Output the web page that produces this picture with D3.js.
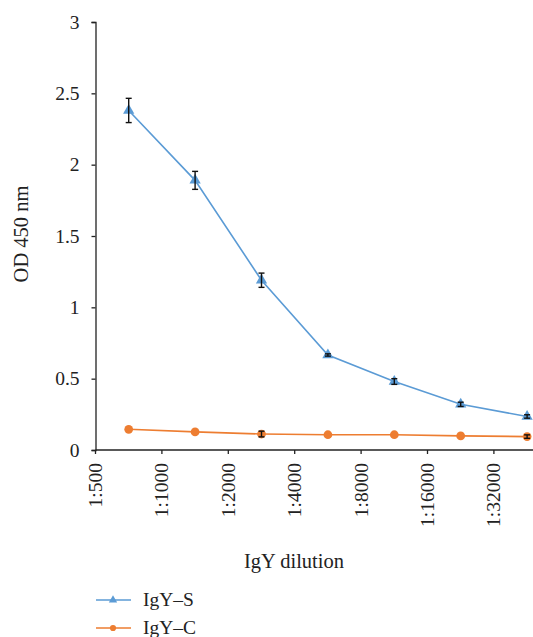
<!DOCTYPE html>
<html>
<head>
<meta charset="utf-8">
<script src="https://cdn.jsdelivr.net/npm/d3@7"></script>
<style>
  body { margin: 0; background: #fff; }
  text { font-family: "Liberation Serif", "DejaVu Serif", serif; fill: #222; }
</style>
</head>
<body>
<div id="chart"></div>
<script>
// values
const dilutions = ["1:500", "1:1000", "1:2000", "1:4000", "1:8000", "1:16000", "1:32000"];
const igyS = [2.38, 1.89, 1.19, 0.666, 0.48, 0.32, 0.235];
const igySErr = [0.085, 0.063, 0.05, 0.008, 0.02, 0.015, 0.012];
const igyC = [0.145, 0.127, 0.112, 0.107, 0.107, 0.099, 0.094];
const igyCErr = [0, 0, 0.02, 0, 0, 0, 0.012];
const yTicks = [0, 0.5, 1, 1.5, 2, 2.5, 3];

const width = 533, height = 637;
const plotLeft = 95.5, plotBottom = 450, plotTop = 22, step = 66.4;

const svg = d3.select("#chart")
    .append("svg")
    .attr("width", width)
    .attr("height", height);

const x = d3.scaleBand()
    .domain(dilutions)
    .range([plotLeft, plotLeft + step * dilutions.length]);

const y = d3.scaleLinear()
    .domain([0, 3])
    .range([plotBottom, plotTop]);

// y axis
const yAxis = svg.append("g")
    .attr("transform", `translate(${plotLeft}, 0)`)
    .call(d3.axisLeft(y).tickValues(yTicks).tickSize(4).tickPadding(12).tickFormat(d3.format("")));
yAxis.select(".domain").attr("stroke", "#222").attr("stroke-width", 1.3);
yAxis.selectAll(".tick line").attr("stroke", "#222").attr("stroke-width", 1.3);
yAxis.selectAll(".tick text").attr("font-size", 19.5).attr("fill", "#222");

// x axis, labels sit on the tick marks, points between them
const xAxis = svg.append("g")
    .attr("transform", `translate(0, ${plotBottom})`);
xAxis.append("line")
    .attr("x1", plotLeft).attr("x2", width)
    .attr("stroke", "#222").attr("stroke-width", 1.3);
const xt = xAxis.selectAll(".xt")
    .data(dilutions)
    .enter().append("g")
    .attr("transform", d => `translate(${x(d)}, 0)`);
xt.append("line").attr("y2", 4).attr("stroke", "#222").attr("stroke-width", 1.3);
xt.append("text")
    .attr("transform", "rotate(-90)")
    .attr("x", -13)
    .attr("dy", "0.33em")
    .attr("text-anchor", "end")
    .attr("font-size", 19.5)
    .text(d => d);

// axis titles
svg.append("text")
    .attr("transform", "translate(28, 234) rotate(-90)")
    .attr("text-anchor", "middle")
    .attr("font-size", 20.5)
    .text("OD 450 nm");

svg.append("text")
    .attr("x", 294)
    .attr("y", 568)
    .attr("text-anchor", "middle")
    .attr("font-size", 20.5)
    .text("IgY dilution");

const cx = d => x(d) + x.bandwidth() / 2;

function drawSeries(values, errs, color, marker) {
    const pts = dilutions.map((d, i) => ({ d, v: values[i], e: errs[i] }));
    svg.append("path")
        .datum(pts)
        .attr("fill", "none")
        .attr("stroke", color)
        .attr("stroke-width", 1.6)
        .attr("d", d3.line().x(p => cx(p.d)).y(p => y(p.v)));

    svg.selectAll(null)
        .data(pts)
        .enter().append("path")
        .attr("transform", p => `translate(${cx(p.d)}, ${y(p.v)})`)
        .attr("fill", color)
        .attr("d", d3.symbol().type(marker).size(marker === d3.symbolTriangle ? 55 : 60));

    const eb = svg.selectAll(null)
        .data(pts.filter(p => p.e > 0))
        .enter().append("g")
        .attr("stroke", "#111")
        .attr("stroke-width", 1.4);
    eb.append("line")
        .attr("x1", p => cx(p.d)).attr("x2", p => cx(p.d))
        .attr("y1", p => y(p.v + p.e)).attr("y2", p => y(p.v - p.e));
    eb.append("line")
        .attr("x1", p => cx(p.d) - 3).attr("x2", p => cx(p.d) + 3)
        .attr("y1", p => y(p.v + p.e)).attr("y2", p => y(p.v + p.e));
    eb.append("line")
        .attr("x1", p => cx(p.d) - 3).attr("x2", p => cx(p.d) + 3)
        .attr("y1", p => y(p.v - p.e)).attr("y2", p => y(p.v - p.e));
}

drawSeries(igyC, igyCErr, "#ED7D31", d3.symbolCircle);
drawSeries(igyS, igySErr, "#5B9BD5", d3.symbolTriangle);

// legend
const legend = [
    { name: "IgY\u2013S", color: "#5B9BD5", marker: d3.symbolTriangle },
    { name: "IgY\u2013C", color: "#ED7D31", marker: d3.symbolCircle }
];
const lg = svg.selectAll(".lg")
    .data(legend)
    .enter().append("g")
    .attr("transform", (d, i) => `translate(96, ${600 + i * 28})`);
lg.append("line").attr("x2", 35).attr("stroke", d => d.color).attr("stroke-width", 1.6);
lg.append("path")
    .attr("transform", "translate(17, 0)")
    .attr("fill", d => d.color)
    .attr("d", d => d3.symbol().type(d.marker).size(30)());
lg.append("text")
    .attr("x", 47)
    .attr("dy", "0.33em")
    .attr("font-size", 19.5)
    .text(d => d.name);
</script>
</body>
</html>
